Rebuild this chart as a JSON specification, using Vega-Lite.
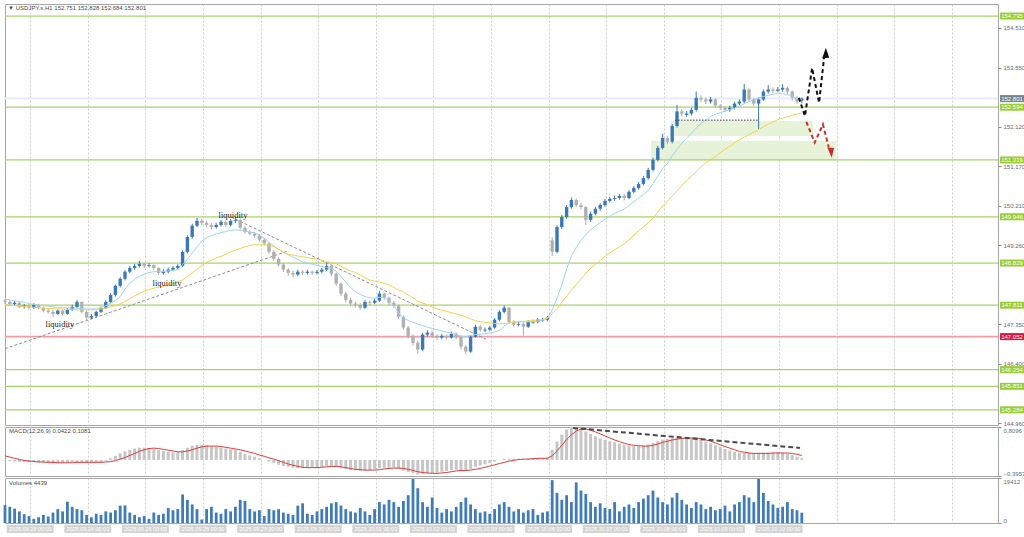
{
"$schema":"https://vega.github.io/schema/vega-lite/v6.json",
"background":"#ffffff",
"padding":{"left":2,"top":3,"right":0,"bottom":0},
"spacing":2,
"bounds":"flush",
"config":{"view":{"stroke":"#a6a6a6"},"font":"Liberation Sans","axis":{"labelFont":"Liberation Sans","labelFontSize":6,"labelColor":"#5d6b79","tickColor":"#8c8c8c","tickSize":3,"labelPadding":2,"domain":false,"title":null,"grid":false,"labelOverlap":false}},
"datasets":{
"k":[
{"t":0,"o":147.92,"h":147.96,"l":147.84,"c":147.89,"v":7700,"m":-0.02,"g":0.10,"f":147.96,"s":147.82},
{"t":2,"o":147.89,"h":147.92,"l":147.80,"c":147.84,"v":7000,"m":-0.03,"g":0.07,"f":147.94,"s":147.81},
{"t":4,"o":147.84,"h":147.91,"l":147.81,"c":147.87,"v":6200,"m":-0.04,"g":0.04,"f":147.92,"s":147.80},
{"t":6,"o":147.87,"h":147.89,"l":147.74,"c":147.77,"v":5000,"m":-0.05,"g":0.01,"f":147.90,"s":147.79},
{"t":8,"o":147.77,"h":147.84,"l":147.73,"c":147.80,"v":3800,"m":-0.05,"g":-0.01,"f":147.88,"s":147.78},
{"t":10,"o":147.80,"h":147.83,"l":147.71,"c":147.75,"v":3000,"m":-0.05,"g":-0.03,"f":147.85,"s":147.77},
{"t":12,"o":147.75,"h":147.86,"l":147.72,"c":147.82,"v":1800,"m":-0.05,"g":-0.04,"f":147.83,"s":147.76},
{"t":14,"o":147.82,"h":147.84,"l":147.71,"c":147.75,"v":2500,"m":-0.06,"g":-0.05,"f":147.81,"s":147.75},
{"t":16,"o":147.75,"h":147.78,"l":147.64,"c":147.68,"v":3500,"m":-0.07,"g":-0.05,"f":147.80,"s":147.74},
{"t":18,"o":147.68,"h":147.72,"l":147.61,"c":147.65,"v":2800,"m":-0.08,"g":-0.06,"f":147.79,"s":147.73},
{"t":20,"o":147.65,"h":147.69,"l":147.53,"c":147.60,"v":4500,"m":-0.08,"g":-0.06,"f":147.77,"s":147.73},
{"t":22,"o":147.60,"h":147.71,"l":147.57,"c":147.68,"v":6000,"m":-0.08,"g":-0.07,"f":147.76,"s":147.72},
{"t":24,"o":147.68,"h":147.70,"l":147.56,"c":147.60,"v":5000,"m":-0.08,"g":-0.07,"f":147.75,"s":147.72},
{"t":26,"o":147.60,"h":147.74,"l":147.58,"c":147.70,"v":9200,"m":-0.07,"g":-0.07,"f":147.75,"s":147.71},
{"t":28,"o":147.70,"h":147.82,"l":147.67,"c":147.77,"v":7000,"m":-0.06,"g":-0.07,"f":147.74,"s":147.71},
{"t":30,"o":147.77,"h":147.93,"l":147.74,"c":147.89,"v":6000,"m":-0.05,"g":-0.06,"f":147.74,"s":147.70},
{"t":32,"o":147.89,"h":147.90,"l":147.61,"c":147.65,"v":5500,"m":-0.06,"g":-0.06,"f":147.73,"s":147.70},
{"t":34,"o":147.65,"h":147.68,"l":147.43,"c":147.51,"v":3500,"m":-0.07,"g":-0.06,"f":147.72,"s":147.70},
{"t":36,"o":147.51,"h":147.60,"l":147.47,"c":147.55,"v":2500,"m":-0.07,"g":-0.06,"f":147.72,"s":147.70},
{"t":38,"o":147.55,"h":147.68,"l":147.52,"c":147.65,"v":4000,"m":-0.06,"g":-0.06,"f":147.72,"s":147.71},
{"t":40,"o":147.65,"h":147.78,"l":147.62,"c":147.75,"v":3500,"m":-0.05,"g":-0.06,"f":147.75,"s":147.72},
{"t":42,"o":147.75,"h":147.93,"l":147.72,"c":147.89,"v":5000,"m":-0.02,"g":-0.05,"f":147.80,"s":147.74},
{"t":44,"o":147.89,"h":148.10,"l":147.86,"c":148.06,"v":4500,"m":0.04,"g":-0.04,"f":147.86,"s":147.77},
{"t":46,"o":148.06,"h":148.31,"l":148.02,"c":148.28,"v":5500,"m":0.10,"g":-0.02,"f":147.92,"s":147.80},
{"t":48,"o":148.28,"h":148.49,"l":148.24,"c":148.45,"v":7500,"m":0.16,"g":0.02,"f":148.02,"s":147.84},
{"t":50,"o":148.45,"h":148.66,"l":148.41,"c":148.62,"v":7600,"m":0.21,"g":0.06,"f":148.20,"s":147.90},
{"t":52,"o":148.62,"h":148.76,"l":148.58,"c":148.71,"v":4500,"m":0.25,"g":0.11,"f":148.34,"s":147.97},
{"t":54,"o":148.71,"h":148.81,"l":148.66,"c":148.76,"v":3500,"m":0.28,"g":0.16,"f":148.44,"s":148.04},
{"t":56,"o":148.76,"h":148.88,"l":148.72,"c":148.81,"v":2500,"m":0.30,"g":0.21,"f":148.51,"s":148.09},
{"t":58,"o":148.81,"h":148.84,"l":148.70,"c":148.76,"v":3000,"m":0.30,"g":0.25,"f":148.56,"s":148.15},
{"t":60,"o":148.76,"h":148.83,"l":148.72,"c":148.78,"v":1800,"m":0.29,"g":0.28,"f":148.60,"s":148.19},
{"t":62,"o":148.78,"h":148.80,"l":148.66,"c":148.71,"v":4500,"m":0.27,"g":0.29,"f":148.62,"s":148.22},
{"t":64,"o":148.71,"h":148.73,"l":148.54,"c":148.59,"v":3500,"m":0.24,"g":0.28,"f":148.63,"s":148.25},
{"t":66,"o":148.59,"h":148.68,"l":148.55,"c":148.62,"v":4000,"m":0.22,"g":0.26,"f":148.63,"s":148.27},
{"t":68,"o":148.62,"h":148.72,"l":148.58,"c":148.67,"v":6500,"m":0.20,"g":0.24,"f":148.64,"s":148.29},
{"t":70,"o":148.67,"h":148.76,"l":148.63,"c":148.71,"v":5500,"m":0.19,"g":0.22,"f":148.65,"s":148.33},
{"t":72,"o":148.71,"h":148.80,"l":148.66,"c":148.76,"v":6000,"m":0.19,"g":0.20,"f":148.67,"s":148.38},
{"t":74,"o":148.76,"h":149.14,"l":148.73,"c":149.10,"v":12300,"m":0.24,"g":0.20,"f":148.79,"s":148.42},
{"t":76,"o":149.10,"h":149.50,"l":149.06,"c":149.46,"v":10000,"m":0.30,"g":0.22,"f":148.92,"s":148.50},
{"t":78,"o":149.46,"h":149.78,"l":149.42,"c":149.73,"v":8000,"m":0.35,"g":0.25,"f":149.07,"s":148.59},
{"t":80,"o":149.73,"h":149.92,"l":149.70,"c":149.85,"v":6000,"m":0.37,"g":0.29,"f":149.22,"s":148.68},
{"t":82,"o":149.85,"h":149.90,"l":149.74,"c":149.80,"v":1500,"m":0.37,"g":0.32,"f":149.36,"s":148.77},
{"t":84,"o":149.80,"h":149.84,"l":149.69,"c":149.75,"v":6000,"m":0.36,"g":0.34,"f":149.44,"s":148.85},
{"t":86,"o":149.75,"h":149.79,"l":149.64,"c":149.70,"v":7000,"m":0.34,"g":0.34,"f":149.49,"s":148.90},
{"t":88,"o":149.70,"h":149.80,"l":149.66,"c":149.75,"v":4500,"m":0.32,"g":0.34,"f":149.53,"s":148.95},
{"t":90,"o":149.75,"h":149.87,"l":149.71,"c":149.82,"v":4000,"m":0.30,"g":0.33,"f":149.56,"s":148.99},
{"t":92,"o":149.82,"h":149.86,"l":149.70,"c":149.75,"v":6000,"m":0.28,"g":0.31,"f":149.59,"s":149.04},
{"t":94,"o":149.75,"h":149.89,"l":149.72,"c":149.85,"v":5000,"m":0.26,"g":0.29,"f":149.62,"s":149.10},
{"t":96,"o":149.85,"h":149.95,"l":149.80,"c":149.87,"v":7000,"m":0.25,"g":0.27,"f":149.63,"s":149.14},
{"t":98,"o":149.87,"h":149.90,"l":149.64,"c":149.68,"v":10000,"m":0.20,"g":0.25,"f":149.62,"s":149.18},
{"t":100,"o":149.68,"h":149.72,"l":149.54,"c":149.58,"v":9500,"m":0.15,"g":0.22,"f":149.60,"s":149.22},
{"t":102,"o":149.58,"h":149.63,"l":149.50,"c":149.54,"v":6000,"m":0.11,"g":0.19,"f":149.58,"s":149.25},
{"t":104,"o":149.54,"h":149.58,"l":149.44,"c":149.49,"v":5000,"m":0.08,"g":0.16,"f":149.56,"s":149.27},
{"t":106,"o":149.49,"h":149.53,"l":149.34,"c":149.39,"v":5500,"m":0.04,"g":0.12,"f":149.50,"s":149.27},
{"t":108,"o":149.39,"h":149.44,"l":149.25,"c":149.30,"v":3000,"m":0.00,"g":0.09,"f":149.43,"s":149.27},
{"t":110,"o":149.30,"h":149.33,"l":149.05,"c":149.10,"v":6000,"m":-0.04,"g":0.05,"f":149.33,"s":149.27},
{"t":112,"o":149.10,"h":149.14,"l":148.88,"c":148.93,"v":5500,"m":-0.08,"g":0.02,"f":149.24,"s":149.22},
{"t":114,"o":148.93,"h":148.97,"l":148.74,"c":148.79,"v":6000,"m":-0.12,"g":-0.02,"f":149.16,"s":149.16},
{"t":116,"o":148.79,"h":148.83,"l":148.61,"c":148.67,"v":4500,"m":-0.15,"g":-0.06,"f":149.09,"s":149.09},
{"t":118,"o":148.67,"h":148.71,"l":148.52,"c":148.59,"v":4000,"m":-0.17,"g":-0.10,"f":149.03,"s":149.04},
{"t":120,"o":148.59,"h":148.64,"l":148.49,"c":148.55,"v":3500,"m":-0.19,"g":-0.13,"f":148.97,"s":149.02},
{"t":122,"o":148.55,"h":148.67,"l":148.51,"c":148.62,"v":7500,"m":-0.20,"g":-0.16,"f":148.92,"s":149.00},
{"t":124,"o":148.62,"h":148.66,"l":148.54,"c":148.59,"v":8500,"m":-0.20,"g":-0.18,"f":148.86,"s":148.98},
{"t":126,"o":148.59,"h":148.67,"l":148.55,"c":148.62,"v":4000,"m":-0.20,"g":-0.19,"f":148.83,"s":148.96},
{"t":128,"o":148.62,"h":148.65,"l":148.54,"c":148.59,"v":3500,"m":-0.19,"g":-0.19,"f":148.80,"s":148.94},
{"t":130,"o":148.59,"h":148.66,"l":148.55,"c":148.62,"v":5000,"m":-0.18,"g":-0.19,"f":148.77,"s":148.92},
{"t":132,"o":148.62,"h":148.71,"l":148.58,"c":148.67,"v":6000,"m":-0.17,"g":-0.18,"f":148.75,"s":148.90},
{"t":134,"o":148.67,"h":148.82,"l":148.63,"c":148.76,"v":7000,"m":-0.15,"g":-0.17,"f":148.72,"s":148.87},
{"t":136,"o":148.76,"h":148.78,"l":148.52,"c":148.57,"v":8500,"m":-0.15,"g":-0.16,"f":148.70,"s":148.84},
{"t":138,"o":148.57,"h":148.60,"l":148.28,"c":148.33,"v":9000,"m":-0.17,"g":-0.16,"f":148.63,"s":148.81},
{"t":140,"o":148.33,"h":148.36,"l":148.03,"c":148.09,"v":7500,"m":-0.20,"g":-0.17,"f":148.50,"s":148.75},
{"t":142,"o":148.09,"h":148.13,"l":147.88,"c":147.94,"v":6000,"m":-0.23,"g":-0.19,"f":148.37,"s":148.69},
{"t":144,"o":147.94,"h":147.99,"l":147.80,"c":147.85,"v":5000,"m":-0.25,"g":-0.21,"f":148.24,"s":148.64},
{"t":146,"o":147.85,"h":147.90,"l":147.76,"c":147.82,"v":4500,"m":-0.26,"g":-0.23,"f":148.14,"s":148.60},
{"t":148,"o":147.82,"h":147.86,"l":147.70,"c":147.75,"v":6500,"m":-0.27,"g":-0.24,"f":148.07,"s":148.54},
{"t":150,"o":147.75,"h":147.93,"l":147.72,"c":147.89,"v":5000,"m":-0.26,"g":-0.25,"f":148.02,"s":148.48},
{"t":152,"o":147.89,"h":147.93,"l":147.82,"c":147.87,"v":3500,"m":-0.25,"g":-0.25,"f":147.99,"s":148.42},
{"t":154,"o":147.87,"h":147.97,"l":147.84,"c":147.92,"v":6000,"m":-0.23,"g":-0.25,"f":147.98,"s":148.39},
{"t":156,"o":147.92,"h":148.16,"l":147.89,"c":148.09,"v":9000,"m":-0.20,"g":-0.24,"f":148.00,"s":148.37},
{"t":158,"o":148.09,"h":148.12,"l":147.94,"c":147.99,"v":8000,"m":-0.19,"g":-0.22,"f":148.00,"s":148.34},
{"t":160,"o":147.99,"h":148.02,"l":147.82,"c":147.87,"v":10000,"m":-0.19,"g":-0.21,"f":147.93,"s":148.30},
{"t":162,"o":147.87,"h":147.91,"l":147.75,"c":147.80,"v":9000,"m":-0.19,"g":-0.20,"f":147.80,"s":148.24},
{"t":164,"o":147.80,"h":147.83,"l":147.48,"c":147.53,"v":7000,"m":-0.22,"g":-0.20,"f":147.63,"s":148.18},
{"t":166,"o":147.53,"h":147.56,"l":147.22,"c":147.27,"v":9500,"m":-0.26,"g":-0.21,"f":147.50,"s":148.14},
{"t":168,"o":147.27,"h":147.31,"l":147.01,"c":147.07,"v":12000,"m":-0.30,"g":-0.23,"f":147.44,"s":148.06},
{"t":170,"o":147.07,"h":147.11,"l":146.84,"c":146.90,"v":19000,"m":-0.33,"g":-0.26,"f":147.40,"s":147.99},
{"t":172,"o":146.90,"h":146.95,"l":146.64,"c":146.74,"v":15000,"m":-0.36,"g":-0.29,"f":147.35,"s":147.91},
{"t":174,"o":146.74,"h":147.14,"l":146.70,"c":147.10,"v":9000,"m":-0.34,"g":-0.31,"f":147.32,"s":147.86},
{"t":176,"o":147.10,"h":147.21,"l":147.05,"c":147.15,"v":7000,"m":-0.33,"g":-0.32,"f":147.28,"s":147.82},
{"t":178,"o":147.15,"h":147.18,"l":147.02,"c":147.07,"v":11000,"m":-0.32,"g":-0.33,"f":147.25,"s":147.77},
{"t":180,"o":147.07,"h":147.11,"l":146.97,"c":147.03,"v":6500,"m":-0.31,"g":-0.33,"f":147.22,"s":147.72},
{"t":182,"o":147.03,"h":147.12,"l":146.99,"c":147.07,"v":4500,"m":-0.29,"g":-0.32,"f":147.19,"s":147.69},
{"t":184,"o":147.07,"h":147.10,"l":146.98,"c":147.03,"v":6000,"m":-0.27,"g":-0.31,"f":147.16,"s":147.66},
{"t":186,"o":147.03,"h":147.17,"l":147.00,"c":147.12,"v":5000,"m":-0.25,"g":-0.29,"f":147.13,"s":147.63},
{"t":188,"o":147.12,"h":147.15,"l":146.99,"c":147.05,"v":7000,"m":-0.24,"g":-0.27,"f":147.10,"s":147.60},
{"t":190,"o":147.05,"h":147.08,"l":146.75,"c":146.81,"v":9000,"m":-0.25,"g":-0.26,"f":147.06,"s":147.57},
{"t":192,"o":146.81,"h":146.85,"l":146.62,"c":146.69,"v":11000,"m":-0.26,"g":-0.26,"f":147.05,"s":147.53},
{"t":194,"o":146.69,"h":147.09,"l":146.66,"c":147.05,"v":8000,"m":-0.22,"g":-0.25,"f":147.08,"s":147.48},
{"t":196,"o":147.05,"h":147.34,"l":147.02,"c":147.29,"v":6000,"m":-0.17,"g":-0.23,"f":147.10,"s":147.44},
{"t":198,"o":147.29,"h":147.33,"l":147.17,"c":147.22,"v":4500,"m":-0.14,"g":-0.21,"f":147.11,"s":147.41},
{"t":200,"o":147.20,"h":147.27,"l":147.16,"c":147.22,"v":5000,"m":-0.11,"g":-0.18,"f":147.12,"s":147.40},
{"t":202,"o":147.22,"h":147.31,"l":147.18,"c":147.27,"v":4000,"m":-0.08,"g":-0.15,"f":147.14,"s":147.38},
{"t":204,"o":147.27,"h":147.50,"l":147.24,"c":147.46,"v":6000,"m":-0.04,"g":-0.12,"f":147.16,"s":147.37},
{"t":206,"o":147.46,"h":147.69,"l":147.42,"c":147.65,"v":8000,"m":0.00,"g":-0.09,"f":147.20,"s":147.36},
{"t":208,"o":147.65,"h":147.80,"l":147.61,"c":147.75,"v":9000,"m":0.03,"g":-0.06,"f":147.30,"s":147.37},
{"t":210,"o":147.75,"h":147.77,"l":147.36,"c":147.41,"v":7000,"m":0.03,"g":-0.03,"f":147.39,"s":147.38},
{"t":212,"o":147.41,"h":147.45,"l":147.29,"c":147.34,"v":5000,"m":0.03,"g":-0.01,"f":147.41,"s":147.40},
{"t":214,"o":147.34,"h":147.41,"l":147.30,"c":147.36,"v":6000,"m":0.03,"g":0.01,"f":147.41,"s":147.41},
{"t":216,"o":147.36,"h":147.40,"l":147.07,"c":147.29,"v":4500,"m":0.02,"g":0.02,"f":147.41,"s":147.42},
{"t":218,"o":147.29,"h":147.45,"l":147.26,"c":147.41,"v":5500,"m":0.03,"g":0.02,"f":147.41,"s":147.43},
{"t":220,"o":147.39,"h":147.46,"l":147.36,"c":147.41,"v":6000,"m":0.04,"g":0.03,"f":147.41,"s":147.44},
{"t":222,"o":147.41,"h":147.50,"l":147.37,"c":147.46,"v":3500,"m":0.05,"g":0.04,"f":147.42,"s":147.45},
{"t":224,"o":147.44,"h":147.51,"l":147.41,"c":147.46,"v":4500,"m":0.05,"g":0.04,"f":147.45,"s":147.47},
{"t":226,"o":147.46,"h":147.55,"l":147.42,"c":147.51,"v":5000,"m":0.06,"g":0.04,"f":147.49,"s":147.50},
{"t":228,"o":149.38,"h":149.45,"l":149.00,"c":149.10,"v":18500,"m":0.25,"g":0.10,"f":147.70,"s":147.60},
{"t":230,"o":149.10,"h":149.74,"l":149.06,"c":149.70,"v":13000,"m":0.45,"g":0.22,"f":147.98,"s":147.73},
{"t":232,"o":149.70,"h":149.99,"l":149.65,"c":149.94,"v":10000,"m":0.62,"g":0.36,"f":148.30,"s":147.88},
{"t":234,"o":149.94,"h":150.23,"l":149.90,"c":150.18,"v":12000,"m":0.75,"g":0.50,"f":148.68,"s":148.03},
{"t":236,"o":150.18,"h":150.41,"l":150.14,"c":150.35,"v":9000,"m":0.81,"g":0.62,"f":149.00,"s":148.17},
{"t":238,"o":150.35,"h":150.39,"l":150.18,"c":150.23,"v":17500,"m":0.81,"g":0.71,"f":149.20,"s":148.31},
{"t":240,"o":150.23,"h":150.28,"l":150.12,"c":150.18,"v":14000,"m":0.78,"g":0.76,"f":149.38,"s":148.45},
{"t":242,"o":150.18,"h":150.21,"l":149.75,"c":149.87,"v":12500,"m":0.70,"g":0.76,"f":149.52,"s":148.58},
{"t":244,"o":149.87,"h":150.07,"l":149.82,"c":150.02,"v":9000,"m":0.64,"g":0.73,"f":149.63,"s":148.70},
{"t":246,"o":150.02,"h":150.18,"l":149.98,"c":150.14,"v":7000,"m":0.58,"g":0.69,"f":149.72,"s":148.80},
{"t":248,"o":150.14,"h":150.27,"l":150.09,"c":150.23,"v":8500,"m":0.53,"g":0.64,"f":149.81,"s":148.89},
{"t":250,"o":150.23,"h":150.37,"l":150.19,"c":150.33,"v":6500,"m":0.49,"g":0.59,"f":149.89,"s":148.99},
{"t":252,"o":150.33,"h":150.43,"l":150.29,"c":150.38,"v":6000,"m":0.46,"g":0.54,"f":149.96,"s":149.07},
{"t":254,"o":150.38,"h":150.46,"l":150.33,"c":150.40,"v":9000,"m":0.43,"g":0.49,"f":150.03,"s":149.15},
{"t":256,"o":150.40,"h":150.50,"l":150.36,"c":150.45,"v":5000,"m":0.40,"g":0.45,"f":150.08,"s":149.22},
{"t":258,"o":150.45,"h":150.49,"l":150.34,"c":150.40,"v":7000,"m":0.37,"g":0.41,"f":150.13,"s":149.29},
{"t":260,"o":150.40,"h":150.59,"l":150.37,"c":150.55,"v":8000,"m":0.35,"g":0.38,"f":150.22,"s":149.39},
{"t":262,"o":150.55,"h":150.69,"l":150.51,"c":150.64,"v":6500,"m":0.34,"g":0.36,"f":150.31,"s":149.50},
{"t":264,"o":150.64,"h":150.79,"l":150.60,"c":150.74,"v":9000,"m":0.34,"g":0.35,"f":150.40,"s":149.61},
{"t":266,"o":150.74,"h":150.93,"l":150.70,"c":150.88,"v":10500,"m":0.35,"g":0.34,"f":150.48,"s":149.70},
{"t":268,"o":150.88,"h":151.13,"l":150.84,"c":151.08,"v":12000,"m":0.38,"g":0.34,"f":150.58,"s":149.80},
{"t":270,"o":151.08,"h":151.37,"l":151.04,"c":151.32,"v":14000,"m":0.42,"g":0.36,"f":150.75,"s":149.92},
{"t":272,"o":151.32,"h":151.66,"l":151.28,"c":151.61,"v":11000,"m":0.47,"g":0.39,"f":150.93,"s":150.06},
{"t":274,"o":151.61,"h":151.95,"l":151.57,"c":151.85,"v":9000,"m":0.50,"g":0.43,"f":151.11,"s":150.21},
{"t":276,"o":151.85,"h":151.89,"l":151.70,"c":151.76,"v":8000,"m":0.52,"g":0.46,"f":151.23,"s":150.32},
{"t":278,"o":151.76,"h":152.19,"l":151.72,"c":152.14,"v":11000,"m":0.54,"g":0.49,"f":151.42,"s":150.45},
{"t":280,"o":152.14,"h":152.65,"l":152.10,"c":152.49,"v":13000,"m":0.55,"g":0.51,"f":151.57,"s":150.57},
{"t":282,"o":152.49,"h":152.55,"l":152.37,"c":152.44,"v":10000,"m":0.55,"g":0.53,"f":151.72,"s":150.70},
{"t":284,"o":152.41,"h":152.50,"l":152.36,"c":152.44,"v":8000,"m":0.54,"g":0.54,"f":151.85,"s":150.82},
{"t":286,"o":152.44,"h":152.58,"l":152.39,"c":152.53,"v":6500,"m":0.53,"g":0.54,"f":151.96,"s":150.92},
{"t":288,"o":152.53,"h":152.97,"l":152.49,"c":152.82,"v":9000,"m":0.52,"g":0.54,"f":152.09,"s":151.04},
{"t":290,"o":152.82,"h":152.88,"l":152.72,"c":152.78,"v":8000,"m":0.49,"g":0.52,"f":152.20,"s":151.15},
{"t":292,"o":152.78,"h":152.83,"l":152.67,"c":152.73,"v":6000,"m":0.45,"g":0.49,"f":152.28,"s":151.25},
{"t":294,"o":152.73,"h":152.84,"l":152.68,"c":152.78,"v":7000,"m":0.41,"g":0.46,"f":152.37,"s":151.33},
{"t":296,"o":152.78,"h":152.81,"l":152.58,"c":152.63,"v":5500,"m":0.36,"g":0.42,"f":152.42,"s":151.40},
{"t":298,"o":152.63,"h":152.67,"l":152.52,"c":152.58,"v":6000,"m":0.32,"g":0.37,"f":152.46,"s":151.49},
{"t":300,"o":152.58,"h":152.62,"l":152.47,"c":152.53,"v":7500,"m":0.27,"g":0.33,"f":152.50,"s":151.57},
{"t":302,"o":152.53,"h":152.63,"l":152.48,"c":152.58,"v":5000,"m":0.23,"g":0.29,"f":152.54,"s":151.65},
{"t":304,"o":152.58,"h":152.73,"l":152.54,"c":152.68,"v":8000,"m":0.20,"g":0.25,"f":152.57,"s":151.73},
{"t":306,"o":152.68,"h":152.78,"l":152.64,"c":152.73,"v":9000,"m":0.18,"g":0.21,"f":152.62,"s":151.80},
{"t":308,"o":152.73,"h":153.16,"l":152.69,"c":153.02,"v":12000,"m":0.17,"g":0.19,"f":152.68,"s":151.87},
{"t":310,"o":153.02,"h":153.05,"l":152.73,"c":152.78,"v":11000,"m":0.17,"g":0.17,"f":152.73,"s":151.93},
{"t":312,"o":152.78,"h":152.82,"l":152.62,"c":152.68,"v":9000,"m":0.17,"g":0.16,"f":152.78,"s":151.99},
{"t":314,"o":152.68,"h":152.83,"l":152.07,"c":152.78,"v":19000,"m":0.18,"g":0.16,"f":152.81,"s":152.05},
{"t":316,"o":152.78,"h":153.02,"l":152.74,"c":152.97,"v":13000,"m":0.18,"g":0.16,"f":152.85,"s":152.12},
{"t":318,"o":152.97,"h":153.13,"l":152.92,"c":153.02,"v":9500,"m":0.18,"g":0.16,"f":152.88,"s":152.18},
{"t":320,"o":153.02,"h":153.07,"l":152.93,"c":152.99,"v":8000,"m":0.18,"g":0.17,"f":152.91,"s":152.24},
{"t":322,"o":152.99,"h":153.08,"l":152.95,"c":153.02,"v":6500,"m":0.19,"g":0.17,"f":152.92,"s":152.29},
{"t":324,"o":153.02,"h":153.15,"l":152.97,"c":153.06,"v":7000,"m":0.18,"g":0.17,"f":152.92,"s":152.33},
{"t":326,"o":153.06,"h":153.09,"l":152.92,"c":152.97,"v":9000,"m":0.15,"g":0.17,"f":152.90,"s":152.36},
{"t":328,"o":152.97,"h":153.00,"l":152.76,"c":152.82,"v":6000,"m":0.12,"g":0.16,"f":152.86,"s":152.40},
{"t":330,"o":152.82,"h":152.86,"l":152.68,"c":152.73,"v":5500,"m":0.08,"g":0.14,"f":152.80,"s":152.43},
{"t":332,"o":152.751,"h":152.828,"l":152.684,"c":152.801,"v":4439,"m":0.0422,"g":0.1081,"f":152.78,"s":152.45}
],
"lv":[{"p":154.795,"k":"lvl"},{"p":152.594,"k":"lvl"},{"p":151.319,"k":"lvl"},{"p":149.946,"k":"lvl"},{"p":148.829,"k":"lvl"},{"p":147.811,"k":"lvl"},{"p":147.052,"k":"key"},{"p":146.254,"k":"lvl"},{"p":145.851,"k":"lvl"},{"p":145.284,"k":"lvl"},{"p":152.801,"k":"cur"}],
"zones":[{"t1":277.5,"t2":336.7,"p1":152.26,"p2":151.90},{"t1":269.2,"t2":346.2,"p1":151.78,"p2":151.31}],
"trend":[{"t1":0,"p1":146.76,"t2":117.9,"p2":149.12},{"t1":94.2,"p1":149.94,"t2":200.4,"p2":146.99}],
"dot":[{"t1":279.2,"t2":313.75,"p":152.28}],
"zz":[{"id":"up","n":0,"t":330.8,"p":152.82},{"id":"up","n":1,"t":333.3,"p":152.38},{"id":"up","n":2,"t":336.3,"p":153.54},{"id":"up","n":3,"t":339.2,"p":152.70},{"id":"up","n":4,"t":341.3,"p":153.80},{"id":"dn","n":0,"t":333.9,"p":152.24},{"id":"dn","n":1,"t":337.4,"p":151.74},{"id":"dn","n":2,"t":340.8,"p":152.18},{"id":"dn","n":3,"t":343.2,"p":151.63}],
"heads":[{"id":"up","t":341.8,"p":153.90},{"id":"dn","t":343.8,"p":151.50}],
"liq":[{"t":22.9,"p":147.36,"lab":"liquidity"},{"t":67.5,"p":148.35,"lab":"liquidity"},{"t":95,"p":149.99,"lab":"liquidity"}],
"days":[{"t":10.5,"lab":"2025.09.23 00:00"},{"t":34.5,"lab":"2025.09.24 00:00"},{"t":58.5,"lab":"2025.09.25 00:00"},{"t":82.5,"lab":"2025.09.26 00:00"},{"t":106.5,"lab":"2025.09.29 00:00"},{"t":130.5,"lab":"2025.09.30 00:00"},{"t":154.5,"lab":"2025.10.01 00:00"},{"t":178.5,"lab":"2025.10.02 00:00"},{"t":202.5,"lab":"2025.10.03 00:00"},{"t":226.5,"lab":"2025.10.06 00:00"},{"t":250.5,"lab":"2025.10.07 00:00"},{"t":274.5,"lab":"2025.10.08 00:00"},{"t":298.5,"lab":"2025.10.09 00:00"},{"t":322.5,"lab":"2025.10.10 00:00"}],
"div":[{"t1":236.7,"v1":0.786,"t2":331.25,"v2":0.295}]
},
"vconcat":[
{
"width":993,"height":421,
"layer":[
{"data":{"name":"zones"},"mark":{"type":"rect","color":"#e7f3d8"},
 "encoding":{
  "x":{"field":"t1","type":"quantitative","title":null,"scale":{"domain":[0,413.75],"nice":false,"zero":false,"padding":0},"axis":{"values":[10.5,34.5,58.5,82.5,106.5,130.5,154.5,178.5,202.5,226.5,250.5,274.5,298.5,322.5,346.5,370.5,394.5],"grid":true,"gridDash":[2,2],"gridColor":"#cdcdcd","labels":false,"ticks":false,"domain":false,"title":null}},
  "x2":{"field":"t2"},
  "y":{"field":"p1","type":"quantitative","title":null,"scale":{"domain":[144.917,155.086],"nice":false,"zero":false,"padding":0},"axis":{"orient":"right","values":[154.98,154.51,154.03,153.55,153.08,152.12,151.64,151.17,150.69,150.21,149.74,149.26,148.3,147.35,146.87,146.4,145.44,144.96],"format":".3f","labelFlush":false,"labelOverlap":false,"title":null}},
  "y2":{"field":"p2"}}},
{"data":{"name":"lv"},"mark":{"type":"rule"},
 "encoding":{"y":{"field":"p","type":"quantitative","title":null},
  "stroke":{"field":"k","type":"nominal","scale":{"domain":["lvl","key","cur"],"range":["#a8d26a","#f39aa6","#e8ebf1"]},"legend":null},
  "strokeWidth":{"field":"k","type":"nominal","scale":{"domain":["lvl","key","cur"],"range":[1.2,2,1]},"legend":null}}},
{"data":{"name":"trend"},"mark":{"type":"rule","color":"#8c8c8c","strokeDash":[3,2],"strokeWidth":1},
 "encoding":{"x":{"field":"t1","type":"quantitative","title":null},"x2":{"field":"t2"},"y":{"field":"p1","type":"quantitative","title":null},"y2":{"field":"p2"}}},
{"data":{"name":"k"},"mark":{"type":"rule","strokeWidth":1},
 "encoding":{"x":{"field":"t","type":"quantitative","title":null},"y":{"field":"l","type":"quantitative","title":null},"y2":{"field":"h"},
  "color":{"condition":{"test":"datum.c >= datum.o","value":"#3a78b6"},"value":"#a9a9a9"}}},
{"data":{"name":"k"},"mark":{"type":"bar","size":3.4},
 "encoding":{"x":{"field":"t","type":"quantitative","title":null},"y":{"field":"o","type":"quantitative","title":null},"y2":{"field":"c"},
  "color":{"condition":{"test":"datum.c >= datum.o","value":"#3a78b6"},"value":"#b0b0b0"}}},
{"data":{"name":"k"},"mark":{"type":"line","color":"#9fd4f2","strokeWidth":1},
 "encoding":{"x":{"field":"t","type":"quantitative","title":null},"y":{"field":"f","type":"quantitative","title":null}}},
{"data":{"name":"k"},"mark":{"type":"line","color":"#f5d24a","strokeWidth":1},
 "encoding":{"x":{"field":"t","type":"quantitative","title":null},"y":{"field":"s","type":"quantitative","title":null}}},
{"data":{"name":"dot"},"mark":{"type":"rule","color":"#333333","strokeDash":[1.5,1.5],"strokeWidth":1},
 "encoding":{"x":{"field":"t1","type":"quantitative","title":null},"x2":{"field":"t2"},"y":{"field":"p","type":"quantitative","title":null}}},
{"data":{"name":"zz"},"mark":{"type":"line","strokeDash":[4,3],"strokeWidth":2},
 "encoding":{"x":{"field":"t","type":"quantitative","title":null},"y":{"field":"p","type":"quantitative","title":null},"order":{"field":"n","type":"quantitative"},
  "color":{"field":"id","type":"nominal","scale":{"domain":["up","dn"],"range":["#111111","#c8302a"]},"legend":null}}},
{"data":{"name":"heads"},"mark":{"type":"point","filled":true,"opacity":1,"size":110},
 "encoding":{"x":{"field":"t","type":"quantitative","title":null},"y":{"field":"p","type":"quantitative","title":null},
  "color":{"field":"id","type":"nominal","legend":null},
  "shape":{"field":"id","type":"nominal","scale":{"domain":["up","dn"],"range":["M-0.6,1L0.1,-1L0.75,0.9Z","M-0.55,-1L0.3,1L0.75,-0.85Z"]},"legend":null}}},
{"data":{"name":"liq"},"mark":{"type":"text","font":"Liberation Serif","fontSize":8.5,"color":"#222222","align":"center","baseline":"middle"},
 "encoding":{"x":{"field":"t","type":"quantitative","title":null},"y":{"field":"p","type":"quantitative","title":null},"text":{"field":"lab"}}},
{"data":{"values":[{"lab":"▼ USDJPY.s,H1  152.751 152.828 152.684 152.801"}]},"mark":{"type":"text","align":"left","baseline":"middle","fontSize":6,"color":"#4a4a4a"},
 "encoding":{"x":{"datum":1.3},"y":{"datum":155.0},"text":{"field":"lab"}}},
{"data":{"name":"lv"},"mark":{"type":"bar","size":7,"orient":"horizontal","clip":false},
 "encoding":{"x":{"datum":414.6},"x2":{"datum":424.6},"y":{"field":"p","type":"quantitative","title":null},
  "fill":{"field":"k","type":"nominal","scale":{"domain":["lvl","key","cur"],"range":["#9acd32","#dc143c","#75838f"]},"legend":null}}},
{"data":{"name":"lv"},"mark":{"type":"text","clip":false,"fontSize":6,"color":"#ffffff","align":"center","baseline":"middle"},
 "encoding":{"x":{"datum":419.6},"y":{"field":"p","type":"quantitative","title":null},"text":{"field":"p","type":"quantitative","format":".3f"}}}
]
},
{
"width":993,"height":49,
"layer":[
{"data":{"name":"k"},"mark":{"type":"bar","size":3,"color":"#c6c6c6"},
 "encoding":{
  "x":{"field":"t","type":"quantitative","title":null,"scale":{"domain":[0,413.75],"nice":false,"zero":false,"padding":0},"axis":{"values":[10.5,34.5,58.5,82.5,106.5,130.5,154.5,178.5,202.5,226.5,250.5,274.5,298.5,322.5,346.5,370.5,394.5],"grid":true,"gridDash":[2,2],"gridColor":"#cdcdcd","labels":false,"ticks":false,"domain":false,"title":null}},
  "y":{"field":"m","type":"quantitative","title":null,"scale":{"domain":[-0.3953,0.8096],"nice":false,"padding":0},"axis":{"orient":"right","values":[0.8096,0,-0.3953],"labelExpr":"datum.value == 0 ? '0.00' : format(datum.value, '.4f')","labelFlush":true,"labelOverlap":false,"title":null}}}},
{"data":{"name":"k"},"mark":{"type":"line","color":"#e03a3a","strokeWidth":1},
 "encoding":{"x":{"field":"t","type":"quantitative","title":null},"y":{"field":"g","type":"quantitative","title":null}}},
{"data":{"name":"div"},"mark":{"type":"rule","color":"#4a4a4a","strokeDash":[5,3],"strokeWidth":2},
 "encoding":{"x":{"field":"t1","type":"quantitative","title":null},"x2":{"field":"t2"},"y":{"field":"v1","type":"quantitative","title":null},"y2":{"field":"v2"}}},
{"data":{"values":[{"lab":"MACD(12,26,9) 0.0422 0.1081"}]},"mark":{"type":"text","align":"left","baseline":"middle","fontSize":6,"color":"#4a4a4a"},
 "encoding":{"x":{"datum":1.7},"y":{"datum":0.71},"text":{"field":"lab"}}}
]
},
{
"width":993,"height":45,
"layer":[
{"data":{"name":"k"},"mark":{"type":"bar","size":2.8,"color":"#3f7cb8"},
 "encoding":{
  "x":{"field":"t","type":"quantitative","title":null,"scale":{"domain":[0,413.75],"nice":false,"zero":false,"padding":0},"axis":{"values":[10.5,34.5,58.5,82.5,106.5,130.5,154.5,178.5,202.5,226.5,250.5,274.5,298.5,322.5,346.5,370.5,394.5],"grid":true,"gridDash":[2,2],"gridColor":"#cdcdcd","labels":false,"ticks":false,"domain":false,"title":null}},
  "y":{"field":"v","type":"quantitative","title":null,"scale":{"domain":[0,19412],"nice":false,"padding":0},"axis":{"orient":"right","values":[19412,0],"format":"d","labelFlush":true,"labelOverlap":false,"title":null}}}},
{"data":{"values":[{"lab":"Volumes 4439"}]},"mark":{"type":"text","align":"left","baseline":"middle","fontSize":6,"color":"#4a4a4a"},
 "encoding":{"x":{"datum":1.7},"y":{"datum":17400},"text":{"field":"lab"}}}
]
},
{
"width":993,"height":8,
"view":{"stroke":null},
"data":{"name":"days"},
"layer":[
{"mark":{"type":"rule","color":"#d4d4d4","strokeWidth":47},
 "encoding":{"x":{"field":"t","type":"quantitative","scale":{"domain":[0,413.75],"nice":false,"zero":false,"padding":0},"axis":null}}},
{"mark":{"type":"text","color":"#ffffff","fontSize":5.5,"align":"center","baseline":"middle"},
 "encoding":{"x":{"field":"t","type":"quantitative","axis":null},"text":{"field":"lab"}}}
]
}
]
}
